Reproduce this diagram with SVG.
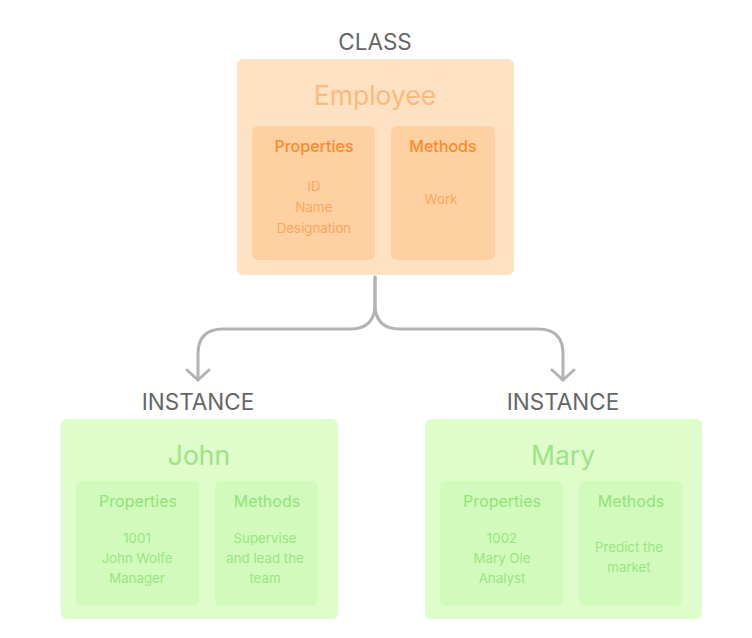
<svg xmlns="http://www.w3.org/2000/svg" width="752" height="638" viewBox="0 0 752 638">
<defs>
<style>
text{font-family:Inter,"Noto Sans","Liberation Sans",sans-serif;text-anchor:middle}
.lbl{font-size:22.5px;fill:#666666}
.co{fill:#FFE1C3}.ci{fill:#FFD0A2}
.go{fill:#DFFCCB}.gi{fill:#D2FABD}
.ct{font-size:26.5px;fill:#FFBA7A}.ch{font-size:16px;fill:#FF8A2A;font-weight:500}.cs{font-size:13.3px;fill:#FFA65A}
.gt{font-size:26.5px;fill:#9BE584}.gh{font-size:16px;fill:#8EE575}.gs{font-size:13.3px;fill:#98E582}
.con{fill:none;stroke:#B3B3B3;stroke-width:3;stroke-linecap:round;stroke-linejoin:round}
</style>
<marker id="ah" markerWidth="14" markerHeight="26" refX="12" refY="13" orient="auto" markerUnits="userSpaceOnUse" viewBox="0 0 14 26">
<path d="M2,2 L12,13 L2,24" fill="none" stroke="#B3B3B3" stroke-width="3" stroke-linecap="round" stroke-linejoin="round"/>
</marker>
</defs>
<rect width="752" height="638" fill="#ffffff"/>
<g id="connectors">
<path class="con" d="M375,277 V304 Q375,329 350,329 H223 Q198,329 198,354 V380" marker-end="url(#ah)"/>
<path class="con" d="M375,277 V304 Q375,329 400,329 H538 Q563,329 563,354 V380" marker-end="url(#ah)"/>
</g>
<g id="class">
<text class="lbl" x="375" y="50">CLASS</text>
<rect class="co" x="237" y="59" width="277" height="216" rx="6"/>
<text class="ct" x="375" y="105">Employee</text>
<rect class="ci" x="252" y="126" width="123" height="134" rx="6"/>
<rect class="ci" x="391" y="126" width="104" height="134" rx="6"/>
<text class="ch" x="314" y="152">Properties</text>
<text class="ch" x="443" y="152">Methods</text>
<text class="cs" x="314" y="191">ID</text>
<text class="cs" x="314" y="212">Name</text>
<text class="cs" x="314" y="233">Designation</text>
<text class="cs" x="441" y="204">Work</text>
</g>
<g id="john">
<text class="lbl" x="198" y="410">INSTANCE</text>
<rect class="go" x="61" y="419" width="277" height="200" rx="6"/>
<text class="gt" x="199" y="465">John</text>
<rect class="gi" x="76" y="481" width="123" height="125" rx="6"/>
<rect class="gi" x="215" y="481" width="103" height="125" rx="6"/>
<text class="gh" x="138" y="507">Properties</text>
<text class="gh" x="267" y="507">Methods</text>
<text class="gs" x="137" y="543">1001</text>
<text class="gs" x="137" y="563">John Wolfe</text>
<text class="gs" x="137" y="583">Manager</text>
<text class="gs" x="265" y="543">Supervise</text>
<text class="gs" x="265" y="563">and lead the</text>
<text class="gs" x="265" y="583">team</text>
</g>
<g id="mary">
<text class="lbl" x="563" y="410">INSTANCE</text>
<rect class="go" x="425" y="419" width="277" height="200" rx="6"/>
<text class="gt" x="563" y="465">Mary</text>
<rect class="gi" x="440" y="481" width="123" height="125" rx="6"/>
<rect class="gi" x="579" y="481" width="103" height="125" rx="6"/>
<text class="gh" x="502" y="507">Properties</text>
<text class="gh" x="631" y="507">Methods</text>
<text class="gs" x="502" y="543">1002</text>
<text class="gs" x="502" y="563">Mary Ole</text>
<text class="gs" x="502" y="583">Analyst</text>
<text class="gs" x="629" y="552">Predict the</text>
<text class="gs" x="629" y="572">market</text>
</g>
</svg>
